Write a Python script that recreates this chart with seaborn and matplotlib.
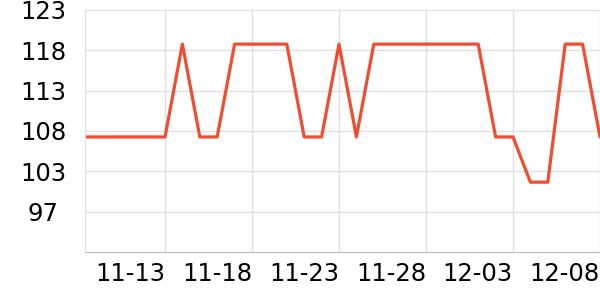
import matplotlib
matplotlib.use("Agg")
import matplotlib.pyplot as plt
import matplotlib.dates as mdates
import seaborn as sns
import pandas as pd
import numpy as np

H, L, M = 118.7, 107.0, 101.3
dates = pd.date_range("2023-11-08", "2023-12-08", freq="D")
values = [L, L, L, L, L, L,          # 11-08 .. 11-13
          H, L, L,                   # 11-14 .. 11-16
          H, H, H, H,                # 11-17 .. 11-20
          L, L, H, L,                # 11-21 .. 11-24
          H, H, H, H, H, H, H,       # 11-25 .. 12-01
          L, L, M, M, H, H, L]       # 12-02 .. 12-08
tick_dates = ["2023-11-13", "2023-11-18", "2023-11-23", "2023-11-28", "2023-12-03", "2023-12-08"]
tick_labels = ["11-13", "11-18", "11-23", "11-28", "12-03", "12-08"]
y_labels = ["97", "103", "108", "113", "118", "123"]

df = pd.DataFrame({"date": dates, "value": values})

sns.set_style("white")
plt.rcParams["font.family"] = ["DejaVu Sans"]

fig = plt.figure(figsize=(6, 3), dpi=100)
ax = fig.add_axes([85/600, 48/300, 515/600, 242/300])

sns.lineplot(data=df, x="date", y="value", ax=ax, color="#ef4c31", linewidth=2.3)

ymin, ymax = 92.5, 123.0
ax.set_ylim(ymin, ymax)
yt = np.linspace(ymin, ymax, 7)[1:]
ax.set_yticks(yt)
ax.set_yticklabels(y_labels, fontsize=17.5, ha="center", color="black")
ax.tick_params(axis="y", length=0, pad=30)

x0 = mdates.date2num(pd.Timestamp("2023-11-13")) - 80/17.4
x1 = mdates.date2num(pd.Timestamp("2023-12-08"))
ax.set_xlim(x0, x1)
ax.set_xticks([mdates.date2num(pd.Timestamp(d)) for d in tick_dates])
ax.set_xticklabels(tick_labels, fontsize=17.5, ha="right", color="black")
ax.set_xticks([x0], minor=True)
ax.tick_params(axis="x", which="both", length=2.5, color="#cccccc", pad=5)

ax.grid(True, color="#e0e0e0", linewidth=1)
ax.set_axisbelow(True)
for s in ["top", "right"]:
    ax.spines[s].set_visible(False)
ax.spines["left"].set_color("#e0e0e0")
ax.spines["bottom"].set_color("#bbbbbb")
ax.set_xlabel("")
ax.set_ylabel("")

fig.savefig("out.png", dpi=100)
